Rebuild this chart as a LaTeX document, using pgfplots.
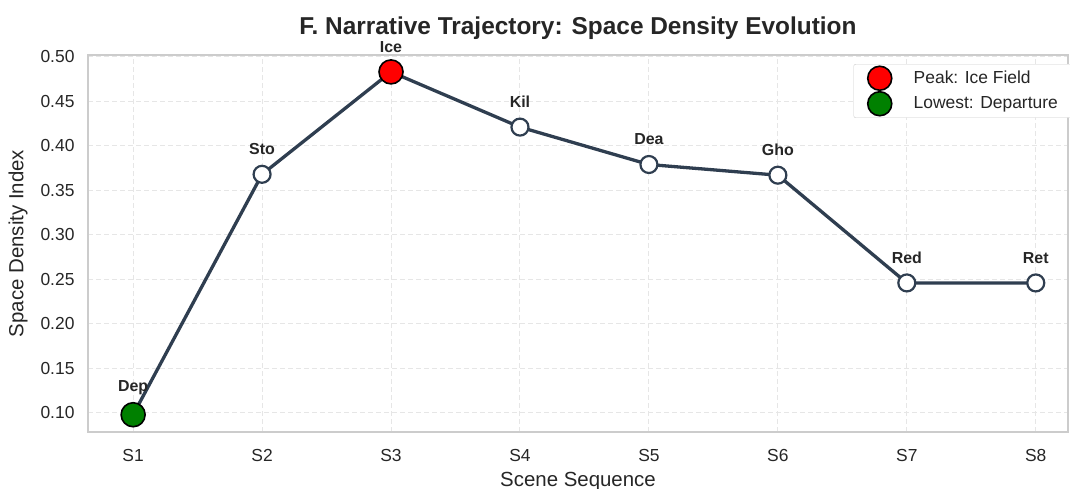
\documentclass[border=0pt]{standalone}
\usepackage{pgfplots}
\pgfplotsset{compat=1.18}
\usepackage{fontspec}
\setmainfont{Liberation Sans}
\definecolor{lineC}{HTML}{2F3E50}
\definecolor{gridC}{HTML}{E6E6E6}
\definecolor{spineC}{HTML}{CCCCCC}
\definecolor{txt}{HTML}{262626}
\begin{document}
\begin{tikzpicture}[x=1bp,y=1bp]
\useasboundingbox (0,0) rectangle (1070,489);
\begin{axis}[
  at={(88bp,57bp)}, anchor=south west,
  scale only axis, width=980bp, height=377bp,
  xmin=-0.35, xmax=7.25, ymin=0.0786, ymax=0.502,
  xtick={0,...,7}, xticklabels={S1,S2,S3,S4,S5,S6,S7,S8},
  ytick={0.10,0.15,...,0.51},
  yticklabel style={/pgf/number format/fixed, /pgf/number format/fixed zerofill, /pgf/number format/precision=2, /tikz/xshift=-10bp},
  /pgf/number format/assume math mode=true,
  ticklabel style={font=\fontsize{17.5}{20}\selectfont, text=txt},
  xticklabel style={yshift=-14bp},
  major tick length=0pt,
  grid=major, major grid style={gridC, line width=1bp, dash pattern=on 5bp off 3bp},
  axis line style={spineC, line width=1.3bp},
  xlabel={Scene Sequence}, ylabel={Space Density Index},
  label style={font=\fontsize{20.5}{24}\selectfont, text=txt},
  xlabel style={at={(axis description cs:0.5,0)}, yshift=-37bp},
  ylabel style={yshift=6bp},
  title={\bfseries F. Narrative Trajectory: Space Density Evolution},
  title style={font=\fontsize{24.5}{28}\selectfont, text=txt, yshift=6bp},
  legend style={at={(1,0.976)}, xshift=6bp, anchor=north east, draw=spineC, rounded corners=2bp,
    font=\fontsize{17.5}{20}\selectfont, text=txt, row sep=1.5bp, inner xsep=14bp, inner ysep=2bp,
    /tikz/every odd column/.append style={column sep=20bp}},
  legend cell align=left,
  clip=false,
]
\addplot[lineC, line width=3.3bp, mark=*, mark size=8.5bp,
  mark options={fill=white, draw=lineC, line width=2.2bp},
  nodes near coords, point meta=explicit symbolic,
  every node near coord/.append style={font=\bfseries\fontsize{16}{18}\selectfont, text=txt, yshift=15bp},
  forget plot]
table[meta=label]{
x y label
0 0.098 Dep
1 0.368 Sto
2 0.483 Ice
3 0.421 Kil
4 0.379 Dea
5 0.367 Gho
6 0.246 Red
7 0.246 Ret
};
\addplot[only marks, mark=*, mark size=12bp, mark options={fill=red, draw=black, line width=1.6bp}]
coordinates {(2,0.483)};
\addlegendentry{Peak: Ice Field}
\addplot[only marks, mark=*, mark size=12bp, mark options={fill={rgb,255:red,0;green,128;blue,0}, draw=black, line width=1.6bp}]
coordinates {(0,0.098)};
\addlegendentry{Lowest: Departure}
\end{axis}
\end{tikzpicture}
\end{document}
